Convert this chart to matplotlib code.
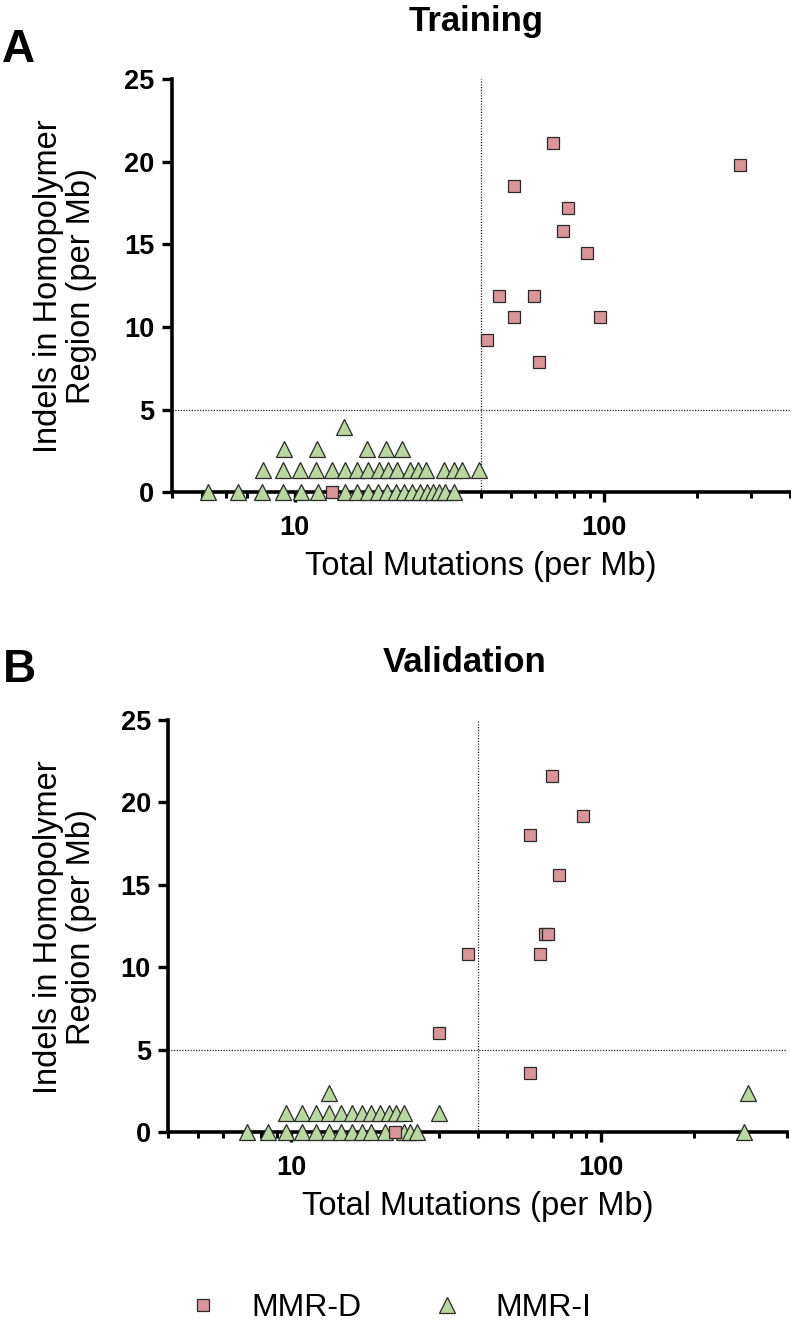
import matplotlib
matplotlib.use("Agg")
import matplotlib.pyplot as plt
from matplotlib.ticker import FixedLocator, NullFormatter, FixedFormatter
from matplotlib.lines import Line2D

plt.rcParams['font.family'] = ['Liberation Sans', 'DejaVu Sans']

# --- Training (A) ---
train_d_x = [68.3, 276.5, 51.3, 76.4, 73.6, 88.3, 45.9, 59.3, 51.3, 97.1, 42.0, 61.9, 13.2]
train_d_y = [21.1, 19.8, 18.5, 17.2, 15.8, 14.5, 11.9, 11.9, 10.6, 10.6, 9.2, 7.9, 0]

train_i_x = [5.24, 6.54, 7.85, 9.19, 10.5, 11.85, 14.5, 15.86, 17.22, 18.56, 19.85, 21.23,
             22.53, 23.92, 25.4, 26.77, 28.0, 29.29, 30.62, 32.76,
             7.91, 9.19, 10.43, 11.76, 13.16, 14.5, 15.86, 17.22, 18.7, 20.0, 21.39, 23.66,
             25.08, 26.67, 30.35, 32.81, 34.7, 39.49,
             9.21, 11.79, 17.1, 19.7, 22.25,
             14.42]
train_i_y = [0] * 20 + [1.32] * 18 + [2.64] * 5 + [3.96]

# --- Validation (B) ---
valid_d_x = [69.7, 87.9, 58.95, 73.4, 65.9, 67.5, 63.9, 37.2, 30.0, 58.95, 21.6]
valid_d_y = [21.6, 19.2, 18.0, 15.6, 12.0, 12.0, 10.8, 10.8, 6.0, 3.6, 0]

valid_i_x = [7.18, 8.38, 9.60, 10.83, 12.03, 13.26, 14.46, 15.68, 16.9, 18.09, 20.12, 23.19,
             24.22, 25.46, 290.6,
             9.61, 10.83, 12.03, 13.26, 14.46, 15.68, 16.94, 18.14, 19.38, 20.62, 21.88, 23.07,
             30.06,
             13.22, 300.8]
valid_i_y = [0] * 15 + [1.2] * 13 + [2.4] * 2

y_ticks = [0, 5, 10, 15, 20, 25]
x_major = [10, 100]
x_major_labels = ["10", "100"]
x_minor = [4, 5, 6, 7, 8, 9, 20, 30, 40, 50, 60, 70, 80, 90, 200, 300, 400]
x_cut = 40
y_cut = 5

pink = "#D8959A"
green = "#BAD6A2"
edge = "#2a2a2a"

W, H = 791, 1329
fig = plt.figure(figsize=(W / 100, H / 100), dpi=100)


def px(x0, y0, x1, y1):
    return [x0 / W, 1 - y1 / H, (x1 - x0) / W, (y1 - y0) / H]


def panel(rect, dx, dy, ix, iy):
    ax = fig.add_axes(rect)
    ax.set_xscale("log")
    ax.set_xlim(4, 400)
    ax.set_ylim(0, 25)
    ax.axvline(x_cut, color="#222222", lw=0.9, ls=(0, (1, 1.2)), zorder=1)
    ax.axhline(y_cut, color="#222222", lw=0.9, ls=(0, (1, 1.2)), zorder=1)
    ax.plot(ix, iy, ls="none", marker="^", ms=11.8, mfc=green, mec=edge, mew=0.9,
            clip_on=False, zorder=4)
    ax.plot(dx, dy, ls="none", marker="s", ms=9.2, mfc=pink, mec=edge, mew=0.9,
            clip_on=False, zorder=5)
    for s in ["top", "right"]:
        ax.spines[s].set_visible(False)
    for s in ["left", "bottom"]:
        ax.spines[s].set_linewidth(2.6)
        ax.spines[s].set_zorder(3)
    ax.set_yticks(y_ticks)
    ax.xaxis.set_major_locator(FixedLocator(x_major))
    ax.xaxis.set_major_formatter(FixedFormatter(x_major_labels))
    ax.xaxis.set_minor_locator(FixedLocator(x_minor))
    ax.xaxis.set_minor_formatter(NullFormatter())
    ax.tick_params(axis="both", which="major", length=7.5, width=2.4, labelsize=19.5, pad=5)
    ax.tick_params(axis="x", which="minor", length=4, width=2.2)
    ax.tick_params(axis="x", which="major", pad=9)
    for lab in ax.get_xticklabels() + ax.get_yticklabels():
        lab.set_fontweight("bold")
    return ax


axA = panel(px(171.7, 79, 790, 492.3), train_d_x, train_d_y, train_i_x, train_i_y)
axB = panel(px(168.3, 720, 786.7, 1132.3), valid_d_x, valid_d_y, valid_i_x, valid_i_y)

ylab = "Indels in Homopolymer\nRegion (per Mb)"
xlab = "Total Mutations (per Mb)"
fig.text(65 / W, 1 - 286 / H, ylab, rotation=90, ha="center", va="center",
         fontsize=23.5, linespacing=1.05)
fig.text(65 / W, 1 - 927 / H, ylab, rotation=90, ha="center", va="center",
         fontsize=23.5, linespacing=1.05)
fig.text(481 / W, 1 - 567 / H, xlab, ha="center", va="center", fontsize=23.5)
fig.text(478 / W, 1 - 1207 / H, xlab, ha="center", va="center", fontsize=23.5)

fig.text(476 / W, 1 - 31 / H, "Training", ha="center", va="baseline",
         fontsize=25, fontweight="bold")
fig.text(465 / W, 1 - 672 / H, "Validation", ha="center", va="baseline",
         fontsize=25, fontweight="bold")
fig.text(2 / W, 1 - 62 / H, "A", ha="left", va="baseline", fontsize=33, fontweight="bold")
fig.text(3 / W, 1 - 682 / H, "B", ha="left", va="baseline", fontsize=33, fontweight="bold")

handles = [
    Line2D([], [], ls="none", marker="s", ms=9.2, mfc=pink, mec=edge, mew=0.9),
    Line2D([], [], ls="none", marker="^", ms=11.8, mfc=green, mec=edge, mew=0.9),
]
fig.legend(handles, ["MMR-D", "MMR-I"], ncol=2, frameon=False, fontsize=23,
           loc="center left", bbox_to_anchor=(187 / W, 1 - 1308 / H),
           borderpad=0, borderaxespad=0, handlelength=1.0, handletextpad=1.0,
           columnspacing=2.2)

fig.savefig("out.png", dpi=100)
